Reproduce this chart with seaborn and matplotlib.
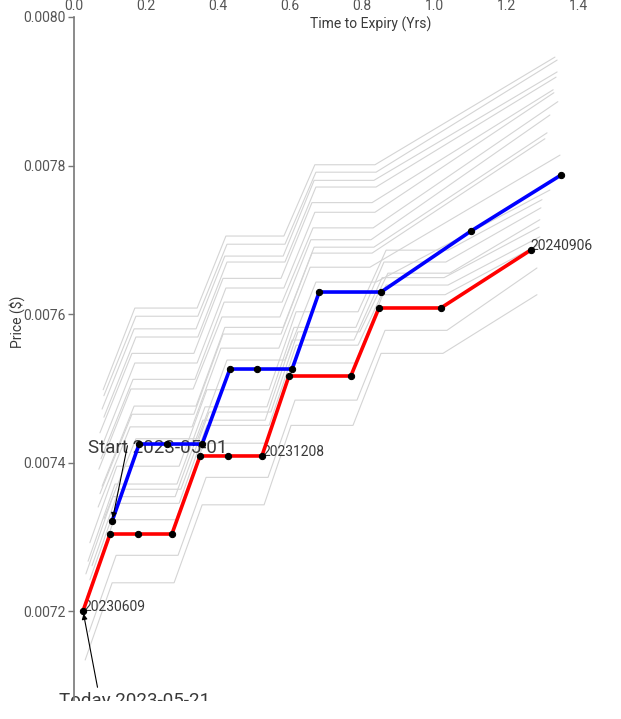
import matplotlib
matplotlib.use("Agg")

import pandas as pd
import matplotlib.pyplot as plt
import seaborn as sns
from matplotlib.patches import Rectangle

sns.set_style("white")
plt.rcParams["font.family"] = ["Roboto", "DejaVu Sans"]

# curva de hoje (vermelha) e curva do inicio (azul)
hoje_t = [0.025, 0.100, 0.178, 0.272, 0.350, 0.428, 0.522, 0.597, 0.769, 0.847, 1.019, 1.269]
hoje_p = [0.007200, 0.0073037, 0.0073037, 0.0073037, 0.0074088, 0.0074088, 0.0074088,
          0.0075165, 0.0075165, 0.0076081, 0.0076081, 0.0076862]
inicio_t = [0.106, 0.181, 0.258, 0.356, 0.433, 0.508, 0.606, 0.681, 0.853, 1.103, 1.353]
inicio_p = [0.0073212, 0.0074249, 0.0074249, 0.0074249, 0.0075259, 0.0075259, 0.0075259,
            0.0076296, 0.0076296, 0.0077118, 0.0077872]

# curvas intermediarias (cinza)
hist_t = [
    [0.081, 0.169, 0.342, 0.422, 0.583, 0.669, 0.836, 1.336],
    [0.083, 0.172, 0.344, 0.425, 0.586, 0.672, 0.839, 1.342],
    [0.078, 0.167, 0.339, 0.419, 0.581, 0.667, 0.833, 1.342],
    [0.083, 0.172, 0.344, 0.425, 0.586, 0.672, 0.839, 1.339],
    [0.072, 0.161, 0.333, 0.414, 0.575, 0.661, 0.828, 1.331],
    [0.081, 0.169, 0.342, 0.422, 0.583, 0.669, 0.836, 1.333],
    [0.075, 0.164, 0.336, 0.417, 0.578, 0.664, 0.831, 1.344],
    [0.069, 0.158, 0.331, 0.411, 0.572, 0.658, 0.825, 1.322],
    [0.078, 0.167, 0.339, 0.419, 0.581, 0.667, 0.833, 1.314],
    [0.072, 0.161, 0.333, 0.414, 0.575, 0.661, 0.828, 1.308],
    [0.067, 0.156, 0.328, 0.408, 0.569, 0.656, 0.822, 1.350],
    [0.083, 0.172, 0.344, 0.425, 0.586, 0.672, 0.839, 1.322],
    [0.044, 0.119, 0.292, 0.369, 0.542, 0.617, 0.789, 0.867, 1.039, 1.300],
    [0.039, 0.114, 0.286, 0.364, 0.536, 0.611, 0.783, 0.861, 1.033, 1.297],
    [0.050, 0.125, 0.297, 0.375, 0.547, 0.622, 0.794, 0.872, 1.044, 1.294],
    [0.033, 0.108, 0.281, 0.358, 0.531, 0.606, 0.778, 0.856, 1.028, 1.292],
    [0.044, 0.119, 0.292, 0.369, 0.542, 0.617, 0.789, 0.867, 1.039, 1.294],
    [0.036, 0.111, 0.283, 0.361, 0.533, 0.608, 0.781, 0.858, 1.031, 1.289],
    [0.042, 0.117, 0.289, 0.367, 0.539, 0.614, 0.786, 0.864, 1.036, 1.286],
    [0.031, 0.106, 0.278, 0.356, 0.528, 0.603, 0.775, 0.853, 1.025, 1.286],
]
hist_p = [
    [0.007498, 0.007608, 0.007608, 0.007705, 0.007705, 0.007801, 0.007801, 0.007946],
    [0.007490, 0.007597, 0.007597, 0.007694, 0.007694, 0.007791, 0.007791, 0.007942],
    [0.007472, 0.007580, 0.007580, 0.007678, 0.007678, 0.007780, 0.007780, 0.007926],
    [0.007461, 0.007569, 0.007569, 0.007670, 0.007670, 0.007771, 0.007771, 0.007919],
    [0.007440, 0.007547, 0.007547, 0.007648, 0.007648, 0.007750, 0.007750, 0.007902],
    [0.007426, 0.007534, 0.007534, 0.007635, 0.007635, 0.007737, 0.007737, 0.007898],
    [0.007405, 0.007512, 0.007512, 0.007616, 0.007616, 0.007716, 0.007716, 0.007886],
    [0.007391, 0.007499, 0.007499, 0.007596, 0.007596, 0.007700, 0.007700, 0.007868],
    [0.007368, 0.007476, 0.007476, 0.007582, 0.007582, 0.007690, 0.007690, 0.007844],
    [0.007358, 0.007465, 0.007465, 0.007573, 0.007573, 0.007682, 0.007682, 0.007836],
    [0.007340, 0.007448, 0.007448, 0.007554, 0.007554, 0.007663, 0.007663, 0.007814],
    [0.007324, 0.007432, 0.007432, 0.007538, 0.007538, 0.007643, 0.007643, 0.007767],
    [0.007292, 0.007395, 0.007395, 0.007498, 0.007498, 0.007603, 0.007603, 0.007686, 0.007686, 0.007754],
    [0.007267, 0.007371, 0.007371, 0.007475, 0.007475, 0.007582, 0.007582, 0.007670, 0.007670, 0.007743],
    [0.007261, 0.007364, 0.007364, 0.007468, 0.007468, 0.007576, 0.007576, 0.007655, 0.007655, 0.007727],
    [0.007250, 0.007354, 0.007354, 0.007457, 0.007457, 0.007565, 0.007565, 0.007649, 0.007649, 0.007717],
    [0.007242, 0.007345, 0.007345, 0.007450, 0.007450, 0.007558, 0.007558, 0.007639, 0.007639, 0.007704],
    [0.007219, 0.007323, 0.007323, 0.007426, 0.007426, 0.007534, 0.007534, 0.007626, 0.007626, 0.007693],
    [0.007172, 0.007275, 0.007275, 0.007380, 0.007380, 0.007484, 0.007484, 0.007578, 0.007578, 0.007662],
    [0.007134, 0.007238, 0.007238, 0.007343, 0.007343, 0.007450, 0.007450, 0.007547, 0.007547, 0.007626],
]

# vencimentos rotulados na curva de hoje
rotulos = ["20230609", "20231208", "20240906"]
rotulo_idx = [0, 6, 11]

y_ticks = [0.0072, 0.0074, 0.0076, 0.0078, 0.0080]
x_ticks = [0.0, 0.2, 0.4, 0.6, 0.8, 1.0, 1.2, 1.4]

TEXTO = "#3a3a3a"

fig = plt.figure(figsize=(6.21, 7.19), dpi=100)
# o eixo vai alem da borda direita (figura recortada)
ax = fig.add_axes([74 / 621, 18 / 719, 594 / 621, 684 / 719])

linhas = []
for i, (ts, ps) in enumerate(zip(hist_t, hist_p)):
    linhas.append(pd.DataFrame({"t": ts, "p": ps, "curva": i}))
df_hist = pd.concat(linhas, ignore_index=True)

sns.lineplot(data=df_hist, x="t", y="p", units="curva", estimator=None, sort=False,
             color="#d4d4d4", lw=0.8, ax=ax, zorder=1)
sns.lineplot(x=inicio_t, y=inicio_p, sort=False, color="blue", lw=2.6, marker="o",
             markerfacecolor="black", markeredgecolor="black", markersize=4.5,
             ax=ax, zorder=3)
sns.lineplot(x=hoje_t, y=hoje_p, sort=False, color="red", lw=2.6, marker="o",
             markerfacecolor="black", markeredgecolor="black", markersize=4.5,
             ax=ax, zorder=4)

for txt, i in zip(rotulos, rotulo_idx):
    ax.text(hoje_t[i], hoje_p[i], txt, ha="left", va="baseline", fontsize=10,
            color=TEXTO, zorder=2)

# anotacoes de data
ax.annotate("", xy=(inicio_t[0], inicio_p[0]), xytext=(0.150, 0.0074263),
            arrowprops=dict(arrowstyle="-|>", color="black", lw=0.8, mutation_scale=8),
            zorder=5)
ax.text(0.039, 0.0074128, "Start 2023-05-01", ha="left", va="baseline",
        fontsize=13.5, color=TEXTO, zorder=2)
ax.annotate("", xy=(hoje_t[0], hoje_p[0]), xytext=(0.0667, 0.0070936),
            arrowprops=dict(arrowstyle="-|>", color="black", lw=0.8, mutation_scale=8),
            zorder=5, annotation_clip=False)
ax.text(-0.0417, 0.007072, "Today 2023-05-21", ha="left", va="baseline",
        fontsize=13.5, color=TEXTO, zorder=2, clip_on=False)

ax.set_xlim(0, 1.65)
ax.set_ylim(0.0070788, 0.0080)
ax.set_xticks(x_ticks)
ax.set_xticklabels([f"{v:.1f}" for v in x_ticks])
ax.set_yticks(y_ticks)
ax.set_yticklabels([f"{v:.4f}" for v in y_ticks])
ax.xaxis.tick_top()
ax.xaxis.set_label_position("top")
ax.tick_params(axis="x", length=0, pad=3, labelsize=10, labelcolor="#555555")
ax.tick_params(axis="y", length=4, width=1, color="#777777", pad=2,
               labelsize=10, labelcolor="#555555", left=True)

ax.set_xlabel("Time to Expiry (Yrs)", fontsize=10, color=TEXTO)
ax.xaxis.set_label_coords(0.5, (701 - 24) / 684)
ax.xaxis.label.set_va("center")
ax.set_ylabel("Price ($)", fontsize=10, color=TEXTO)
ax.yaxis.set_label_coords(-0.096, (701 - 322) / 684)
ax.yaxis.label.set_va("center")

for lado in ["top", "right", "bottom"]:
    ax.spines[lado].set_visible(False)
ax.spines["left"].set_color("#777777")
ax.spines["left"].set_linewidth(1.2)
ax.grid(False)

# faixa branca no rodape (imagem original cortada)
fig.patches.append(Rectangle((0, 0), 1, 18 / 719, transform=fig.transFigure,
                             facecolor="white", edgecolor="none", zorder=10))

fig.savefig("out.png", dpi=100)
